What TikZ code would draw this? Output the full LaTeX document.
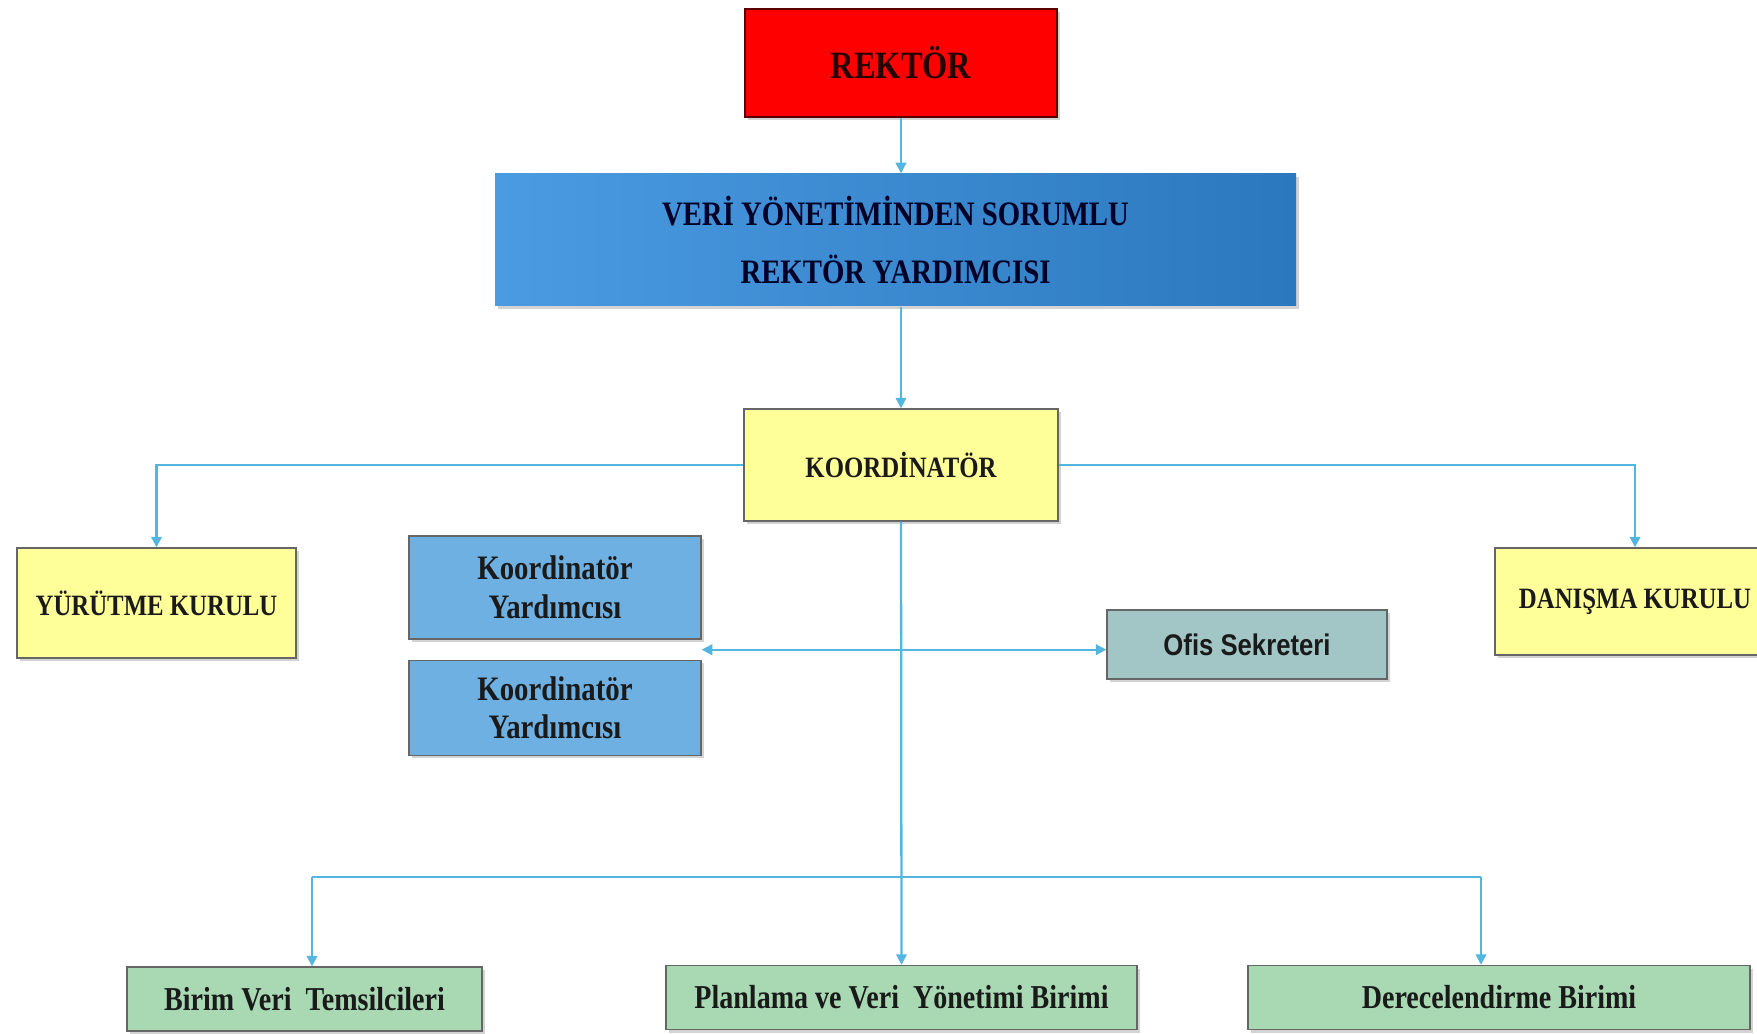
\documentclass[tikz,border=0pt]{standalone}
\usepackage{fontspec}
\setmainfont{Liberation Serif}[FakeStretch=0.84]
\newfontfamily\sansf{Liberation Sans}[FakeStretch=0.86]
\usetikzlibrary{positioning,calc,arrows.meta,shadows}
\definecolor{rektred}{HTML}{FF0000}
\definecolor{vpleft}{HTML}{4A9BE2}
\definecolor{vpright}{HTML}{2C78BE}
\definecolor{yelfill}{HTML}{FFFF99}
\definecolor{kyfill}{HTML}{6EB0E2}
\definecolor{offill}{HTML}{A2C6C6}
\definecolor{grfill}{HTML}{A9D9B3}
\definecolor{linecol}{HTML}{52B6E0}
\definecolor{txtcol}{HTML}{1A1A1A}

\begin{document}
\begin{tikzpicture}[
	box/.style={rectangle, draw=black!60, thick, align=center, text=txtcol,
	drop shadow={shadow xshift=0.05cm, shadow yshift=-0.06cm, opacity=0.35}},
	redbox/.style={box, fill=rektred, draw=red!35!black, text=red!15!black,
	minimum width=6.24cm, minimum height=2.16cm,
	font=\fontsize{22}{26}\selectfont\bfseries},
	vpbox/.style={box, left color=vpleft, right color=vpright, draw=none,
	text=blue!15!black, minimum width=16.02cm, minimum height=2.64cm,
	font=\fontsize{19.5}{33}\selectfont\bfseries},
	yelbox/.style={box, fill=yelfill, minimum height=2.2cm,
	font=\fontsize{16.8}{20}\selectfont\bfseries},
	kybox/.style={box, fill=kyfill, minimum width=5.84cm,
	font=\fontsize{19.5}{22}\selectfont\bfseries},
	ofbox/.style={box, fill=offill, minimum width=5.6cm, minimum height=1.38cm,
	font=\sansf\fontsize{17}{20}\selectfont\bfseries},
	grbox/.style={box, fill=grfill, minimum height=1.28cm,
	font=\fontsize{19}{22}\selectfont\bfseries},
	arr/.style={draw=linecol, line width=1.3pt,
	-{Triangle[width=6pt,length=6pt]}},
	arr2/.style={draw=linecol, line width=1.3pt,
	{Triangle[width=6pt,length=6pt]}-{Triangle[width=6pt,length=6pt]}},
	ln/.style={draw=linecol, line width=1.3pt}
	]
	\useasboundingbox (0,0) rectangle (35.14,-20.68);

	\node[redbox] (rektor) at (18.02,-1.26) {REKTÖR};
	\node[vpbox] (vp) at (17.91,-4.80) {VERİ YÖNETİMİNDEN SORUMLU\\REKTÖR YARDIMCISI};
	\node[yelbox, minimum width=6.28cm, minimum height=2.24cm] (koord) at (18.02,-9.30) {KOORDİNATÖR};
	\node[yelbox, minimum width=5.58cm] (yurutme) at (3.13,-12.06) {YÜRÜTME KURULU};
	\node[yelbox, minimum width=5.6cm, minimum height=2.14cm] (danisma) at (32.70,-12.03) {DANIŞMA KURULU};
	\node[kybox, minimum height=2.06cm] (ky1) at (11.10,-11.75) {Koordinatör\\Yardımcısı};
	\node[kybox, minimum height=1.9cm] (ky2) [below=0.4cm of ky1] {Koordinatör\\Yardımcısı};
	\node[ofbox] (ofis) at (24.94,-12.89) {Ofis Sekreteri};
	\node[grbox, minimum width=7.1cm] (birim) at (6.09,-19.98) {Birim Veri\ \ Temsilcileri};
	\node[grbox, minimum width=9.42cm] (planlama) at (18.03,-19.95) {Planlama ve Veri\ \ Yönetimi Birimi};
	\node[grbox, minimum width=10.04cm] (derece) at (29.98,-19.95) {Derecelendirme Birimi};

	\coordinate (kyg) at ($(ky1.south east)!0.5!(ky2.north east)$);
	\coordinate (busl) at (6.24,-17.54);
	\coordinate (busr) at (29.62,-17.54);

	\draw[arr] (rektor.south) -- (rektor.south |- vp.north);
	\draw[arr] (koord.north |- vp.south) -- (koord.north);
	\draw[arr] (koord.west) -| (yurutme.north);
	\draw[arr] (koord.east) -| (danisma.north);
	\draw[arr] (koord.south) -- (planlama.north);
	\draw[arr2] (kyg) -- (kyg -| ofis.west);
	\draw[ln] (busl) -- (busr);
	\draw[arr] (busl) -- (busl |- birim.north);
	\draw[arr] (busr) -- (busr |- derece.north);
\end{tikzpicture}
\end{document}
